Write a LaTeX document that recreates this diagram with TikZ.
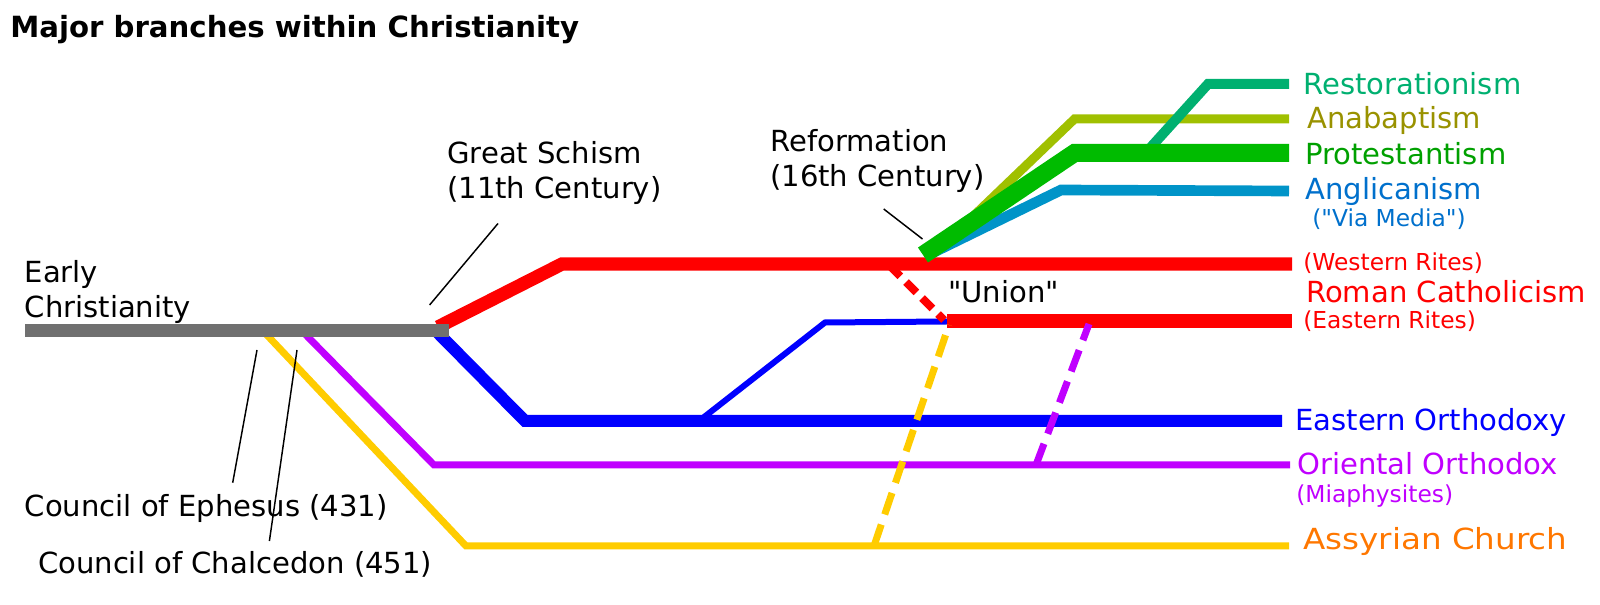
\documentclass[tikz,border=0pt]{standalone}
\usepackage{fontspec}
\setmainfont{DejaVu Sans}[Ligatures=TeXOff]
\usetikzlibrary{positioning}
\definecolor{earlygray}{RGB}{112,112,112}
\definecolor{romanred}{RGB}{255,0,0}
\definecolor{orthoblue}{RGB}{0,0,255}
\definecolor{orientpurple}{RGB}{192,0,255}
\definecolor{assyryellow}{RGB}{255,204,0}
\definecolor{assyrorange}{RGB}{255,119,0}
\definecolor{protgreen}{RGB}{0,187,0}
\definecolor{prottext}{RGB}{0,160,0}
\definecolor{anabline}{RGB}{160,192,0}
\definecolor{anabtext}{RGB}{153,146,0}
\definecolor{restgreen}{RGB}{0,176,112}
\definecolor{anglline}{RGB}{0,148,200}
\definecolor{angltext}{RGB}{0,112,204}

\begin{document}
\begin{tikzpicture}[x=0.75pt,y=-0.75pt,
                    branch/.style={line cap=butt,line join=miter},
                    label/.style={anchor=base west,inner sep=0pt,font=\fontsize{21.8}{26.5}\selectfont,align=left},
                    note/.style={anchor=base west,inner sep=0pt,font=\fontsize{17.5}{20}\selectfont},
                    leader/.style={draw=black,line width=1.1pt}]

  \useasboundingbox (0,0) rectangle (1600,605);

  % title
  \node[anchor=base west,inner sep=0pt,font=\fontsize{21.9}{25}\selectfont\bfseries] (title) at (10,38) {Major branches within Christianity};

  % bends of the branches
  \coordinate (gray0) at (25,331);
  \coordinate (gray1) at (449,331);
  \coordinate (red0) at (438,327);
  \coordinate (red1) at (562,264);
  \coordinate (red2) at (1292,264);
  \coordinate (blue0) at (438,333);
  \coordinate (blue1) at (525,421);
  \coordinate (blue2) at (1282,421);
  \coordinate (blueup0) at (699,421);
  \coordinate (blueup1) at (825,322.5);
  \coordinate (union0) at (947,321.5);
  \coordinate (union1) at (1292,321.5);
  \coordinate (purp0) at (304,333);
  \coordinate (purp1) at (434,465);
  \coordinate (purp2) at (1290,465);
  \coordinate (yell0) at (265,333);
  \coordinate (yell1) at (466,546);
  \coordinate (yell2) at (1289,546);
  \coordinate (anab0) at (940,248);
  \coordinate (anab1) at (1074.5,119);
  \coordinate (anab2) at (1289,119);
  \coordinate (angl0) at (928,255);
  \coordinate (angl1) at (1061,190);
  \coordinate (angl2) at (1289,191);
  \coordinate (prot0) at (923,255);
  \coordinate (prot1) at (1074.5,153);
  \coordinate (prot2) at (1289,153);
  \coordinate (rest0) at (1151,147);
  \coordinate (rest1) at (1208,84);
  \coordinate (rest2) at (1289,84);

  % main lines
  \draw[branch,assyryellow,line width=5.25pt] (yell0) -- (yell1) -- (yell2);
  \draw[branch,orientpurple,line width=5.25pt] (purp0) -- (purp1) -- (purp2);
  \draw[branch,orthoblue,line width=9pt] (blue0) -- (blue1) -- (blue2);
  \draw[branch,orthoblue,line width=4.5pt] (blueup0) -- (blueup1) -- (union0);
  \draw[branch,romanred,line width=10pt] (red0) -- (red1) -- (red2);
  \draw[branch,anabline,line width=6.75pt] (anab0) -- (anab1) -- (anab2);
  \draw[branch,anglline,line width=8pt] (angl0) -- (angl1) -- (angl2);
  \draw[branch,restgreen,line width=7.5pt] (rest0) -- (rest1) -- (rest2);
  \draw[branch,protgreen,line width=13.5pt] (prot0) -- (prot1) -- (prot2);
  \draw[branch,romanred,line width=10.5pt] (union0) -- (union1);

  % unions
  \draw[branch,romanred,line width=6pt,dash pattern=on 11pt off 6pt] (890,266) -- (944,320);
  \draw[branch,orientpurple,line width=5.25pt,dash pattern=on 17pt off 8pt] (1036,465) -- (1089,324);
  \draw[branch,assyryellow,line width=5.25pt,dash pattern=on 17pt off 8pt] (874,546) -- (949,325);

  \draw[branch,earlygray,line width=9.75pt] (gray0) -- (gray1);

  % labels
  \node[label] (early) at (24.5,318) {Early\\Christianity};
  \node[label] (schism) at (447,199) {Great Schism\\(11th Century)};
  \node[label] (reform) at (770,186.5) {Reformation\\(16th Century)};
  \node[label] (union) at (948,303) {"Union"};
  \node[label] (ephesus) at (24.5,517) {Council of Ephesus (431)};
  \node[label] (chalcedon) at (37.8,574) {Council of Chalcedon (451)};

  \node[label,text=restgreen] (restor) at (1303,95) {Restorationism};
  \node[label,text=anabtext] (anabap) at (1307,129) {Anabaptism};
  \node[label,text=prottext] (protest) at (1305,165) {Protestantism};
  \node[label,text=angltext] (anglic) at (1305,200) {Anglicanism};
  \node[note,text=angltext] (viamedia) at (1312,227) {("Via Media")};
  \node[note,text=romanred] (western) at (1303,271) {(Western Rites)};
  \node[label,text=romanred] (roman) at (1306,303) {Roman Catholicism};
  \node[note,text=romanred] (eastern) at (1303,329) {(Eastern Rites)};
  \node[label,text=orthoblue] (orthodox) at (1295,431) {Eastern Orthodoxy};
  \node[label,text=orientpurple] (oriental) at (1297,475) {Oriental Orthodox};
  \node[note,text=orientpurple] (miaphys) at (1296,503) {(Miaphysites)};
  \node[label,text=assyrorange] (assyrian) at (1303,550) {\scalebox{1.12}[1]{Assyrian Church}};

  % leaders
  \coordinate (schismA) at (498,223.5);
  \coordinate (schismB) at (429.6,305);
  \coordinate (reformA) at (883.7,209);
  \coordinate (reformB) at (922.5,239);
  \coordinate (ephesusA) at (257,350);
  \coordinate (ephesusB) at (232.7,482.7);
  \coordinate (chalcA) at (297,350);
  \coordinate (chalcB) at (269.4,541);
  \draw[leader] (schismA) -- (schismB);
  \draw[leader] (reformA) -- (reformB);
  \draw[leader] (ephesusA) -- (ephesusB);
  \draw[leader] (chalcA) -- (chalcB);

\end{tikzpicture}
\end{document}
